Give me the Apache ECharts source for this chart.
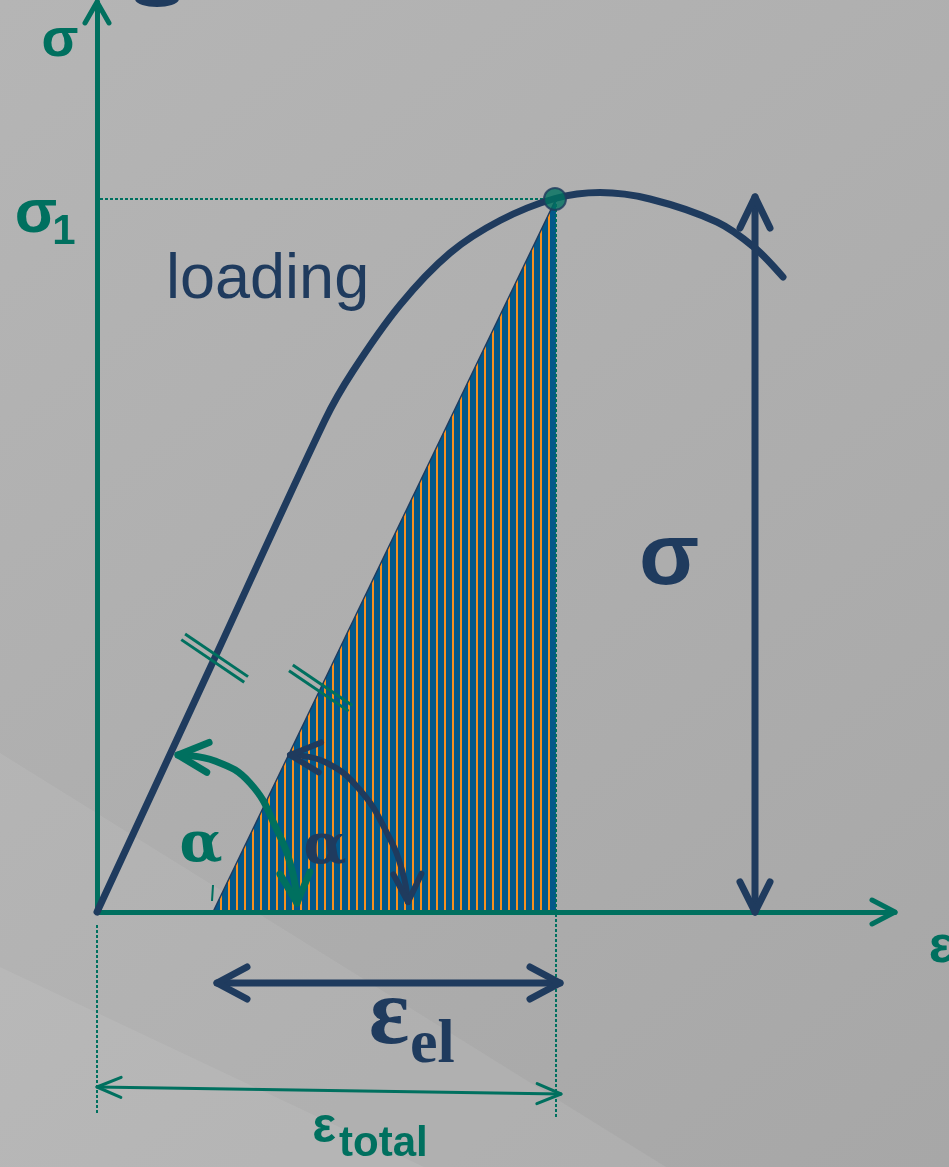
<!DOCTYPE html>
<html>
<head>
<meta charset="utf-8">
<script src="https://cdn.jsdelivr.net/npm/echarts@6/dist/echarts.min.js"></script>
<style>
  html, body { margin: 0; padding: 0; }
  #main { width: 949px; height: 1167px; }
</style>
</head>
<body>
<div id="main"></div>
<script>
// strain ε (x) and stress σ (y), arbitrary units
const loadEps = [0, 1.14, 2.28, 2.56, 3.03, 3.53, 4.03, 4.58, 5.03, 5.53, 6.20, 6.58, 6.86];
const loadSig = [0, 2.46, 4.92, 5.41, 6.07, 6.59, 6.915, 7.135, 7.195, 7.13, 6.90, 6.64, 6.35];
const unloadEps = [1.16, 4.59];
const unloadSig = [0, 7.13];
const peakEps = 4.58;
const peakSig = 7.13;
const sigmaArrowEps = [6.58, 6.58];
const sigmaArrowSig = [0, 7.15];
const elEps = [1.20, 4.63];
const elSig = [-0.71, -0.71];
const totalEps = [0, 4.64];
const totalSig = [-1.75, -1.82];
const arcGreenEps = [0.81, 1.18, 1.53, 1.80, 1.95, 2.00];
const arcGreenSig = [1.57, 1.51, 1.29, 0.82, 0.42, 0.09];
const arcDarkEps = [1.93, 2.28, 2.63, 2.91, 3.05, 3.11];
const arcDarkSig = [1.57, 1.50, 1.22, 0.77, 0.42, 0.10];
const epsMax = 7.98;
const sigMax = 9.10;

const TEAL = '#00705f';
const NAVY = '#1f3b5e';

const zip = (xs, ys) => xs.map((x, i) => [x, ys[i]]);

// vertical orange / blue stripes for the elastic area
const pat = document.createElement('canvas');
pat.width = 8; pat.height = 8;
const pc = pat.getContext('2d');
pc.fillStyle = '#03588a';
pc.fillRect(0, 0, 8, 8);
pc.fillStyle = '#f7901e';
pc.fillRect(4, 0, 2, 8);

const chart = echarts.init(document.getElementById('main'));

function lineSeries(data, color, width, extra) {
    return Object.assign({
        type: 'line',
        data: data,
        symbol: 'none',
        clip: false,
        silent: true,
        lineStyle: { color: color, width: width, cap: 'round' }
    }, extra || {});
}

const dotted = { color: TEAL, width: 2, type: [3, 2] };

const axisCommon = {
    type: 'value',
    z: 3,
    axisLine: { show: true, onZero: true, lineStyle: { color: TEAL, width: 5 } },
    axisTick: { show: false },
    axisLabel: { show: false },
    splitLine: { show: false }
};

chart.setOption({
    backgroundColor: new echarts.graphic.LinearGradient(0, 0, 1, 1, [
        { offset: 0, color: '#b5b5b5' },
        { offset: 1, color: '#a7a7a7' }
    ]),
    animation: false,
    grid: { left: 97, right: 54, top: 2, bottom: 255 },
    xAxis: Object.assign({ min: 0, max: epsMax }, axisCommon),
    yAxis: Object.assign({ min: 0, max: sigMax }, axisCommon),
    series: [
        // elastic (recoverable) part, hatched
        lineSeries(zip(unloadEps, unloadSig), NAVY, 1.5, {
            z: 2,
            areaStyle: { color: { image: pat, repeat: 'repeat' }, opacity: 1 }
        }),
        // dotted guides
        lineSeries([[-0.27, peakSig], [peakEps, peakSig]], TEAL, 2, { z: 4, lineStyle: dotted }),
        lineSeries([[unloadEps[1], peakSig], [unloadEps[1], -2.05]], TEAL, 2, { z: 4, lineStyle: dotted }),
        lineSeries([[0, -0.13], [0, -2.03]], TEAL, 2, { lineStyle: dotted }),
        // loading curve
        lineSeries(zip(loadEps, loadSig), NAVY, 7, { z: 5, smooth: 0.3 }),
        // σ, ε_el, ε_total dimension lines
        lineSeries(zip(sigmaArrowEps, sigmaArrowSig), NAVY, 7, { z: 5 }),
        lineSeries(zip(elEps, elSig), NAVY, 7, { z: 5 }),
        lineSeries(zip(totalEps, totalSig), TEAL, 3, { z: 5 }),
        // angle arcs
        lineSeries(zip(arcGreenEps, arcGreenSig), TEAL, 7, { z: 6, smooth: 0.45 }),
        lineSeries(zip(arcDarkEps, arcDarkSig), NAVY, 6, { z: 6, smooth: 0.45 }),
        // point σ1
        {
            type: 'scatter',
            data: [[peakEps, peakSig]],
            symbolSize: 22,
            z: 7,
            silent: true,
            itemStyle: { color: TEAL, borderColor: NAVY, borderWidth: 2 }
        }
    ]
});

const px = p => chart.convertToPixel({ gridIndex: 0 }, p);

function head(tip, dx, dy, len, half, color, w) {
    const n = Math.hypot(dx, dy);
    const ux = dx / n, uy = dy / n;
    const bx = tip[0] - ux * len, by = tip[1] - uy * len;
    return {
        type: 'polyline', z: 20,
        shape: { points: [[bx - uy * half, by + ux * half], tip, [bx + uy * half, by - ux * half]] },
        style: { stroke: color, lineWidth: w, fill: null, lineCap: 'round', lineJoin: 'round' }
    };
}

function ticks(a, b, t, halfLen) {
    const pa = px(a), pb = px(b);
    const c = [pa[0] + (pb[0] - pa[0]) * t, pa[1] + (pb[1] - pa[1]) * t];
    const d = [0.828, 0.561], nrm = [-0.561, 0.828];
    return [-3.4, 3.4].map(o => ({
        type: 'line', z: 20,
        shape: {
            x1: c[0] + nrm[0] * o - d[0] * halfLen, y1: c[1] + nrm[1] * o - d[1] * halfLen,
            x2: c[0] + nrm[0] * o + d[0] * halfLen, y2: c[1] + nrm[1] * o + d[1] * halfLen
        },
        style: { stroke: TEAL, lineWidth: 3 }
    }));
}

function txt(text, x, y, font, color, align) {
    return {
        type: 'text', z: 30,
        style: {
            text: text, x: x, y: y, font: font, fill: color,
            textAlign: align || 'center', textVerticalAlign: 'middle',
            align: align || 'center', verticalAlign: 'middle'
        }
    };
}

const gEnd = arcGreenEps.length - 1;
const dEnd = arcDarkEps.length - 1;

chart.setOption({
    graphic: [
        // lighter diagonal bands of the backdrop
        { type: 'polygon', z: -10, shape: { points: [[0, 753], [666, 1167], [0, 1167]] }, style: { fill: 'rgba(255,255,255,0.07)' } },
        { type: 'polygon', z: -10, shape: { points: [[0, 967], [424, 1167], [0, 1167]] }, style: { fill: 'rgba(255,255,255,0.07)' } },
        { type: 'ellipse', z: 20, shape: { cx: 157, cy: -1, rx: 22, ry: 8 }, style: { fill: NAVY } },

        head(px([0, sigMax]), 0, -1, 21, 12, TEAL, 5),
        head(px([epsMax, 0]), 1, 0, 23, 12, TEAL, 5),
        head(px([sigmaArrowEps[1], sigmaArrowSig[1]]), 0, -1, 31, 15, NAVY, 7),
        head(px([sigmaArrowEps[0], sigmaArrowSig[0]]), 0, 1, 30, 15, NAVY, 7),
        head(px([elEps[0], elSig[0]]), -1, 0, 30, 16, NAVY, 7),
        head(px([elEps[1], elSig[1]]), 1, 0, 30, 16, NAVY, 7),
        head(px([totalEps[0], totalSig[0]]), -1, -0.015, 24, 10, TEAL, 3),
        head(px([totalEps[1], totalSig[1]]), 1, 0.015, 24, 10, TEAL, 3),
        head(px([arcGreenEps[0], arcGreenSig[0]]), -1, -0.08, 30, 15, TEAL, 7),
        head(px([arcGreenEps[gEnd], arcGreenSig[gEnd]]), 0.07, 1, 30, 15, TEAL, 7),
        head(px([arcDarkEps[0], arcDarkSig[0]]), -1, -0.08, 30, 15, NAVY, 6),
        head(px([arcDarkEps[dEnd], arcDarkSig[dEnd]]), 0.02, 1, 28, 14, NAVY, 6),

        ...ticks([loadEps[0], loadSig[0]], [loadEps[2], loadSig[2]], 0.516, 38),
        ...ticks([unloadEps[0], unloadSig[0]], [unloadEps[1], unloadSig[1]], 0.314, 36),
        { type: 'line', z: 20, shape: { x1: 213, y1: 885, x2: 212, y2: 901 }, style: { stroke: TEAL, lineWidth: 2 } },

        txt('σ', 60, 41, 'bold 54px "Liberation Sans", Arial', TEAL),
        txt('σ', 36, 215, 'bold 62px "Liberation Sans", Arial', TEAL),
        txt('1', 64, 232, 'bold 42px "Liberation Sans", Arial', TEAL),
        txt('loading', 166, 281, '63px "Liberation Sans", Arial', NAVY, 'left'),
        txt('σ', 669, 560, 'bold 88px "Liberation Sans", Arial', NAVY),
        txt('ε', 941, 948, 'bold 52px "Liberation Sans", Arial', TEAL),
        txt('ε', 389, 1018, 'bold 95px "Liberation Serif", "Times New Roman", serif', NAVY),
        txt('el', 410, 1046, 'bold 62px "Liberation Serif", "Times New Roman", serif', NAVY, 'left'),
        txt('ε', 324, 1128, 'bold 50px "Liberation Sans", Arial', TEAL),
        txt('total', 339, 1144, 'bold 42px "Liberation Sans", Arial', TEAL, 'left'),
        txt('α', 201, 846, 'bold 56px "DejaVu Serif", serif', TEAL),
        txt('α', 325, 848, 'bold 56px "DejaVu Serif", serif', NAVY)
    ]
});
</script>
</body>
</html>
